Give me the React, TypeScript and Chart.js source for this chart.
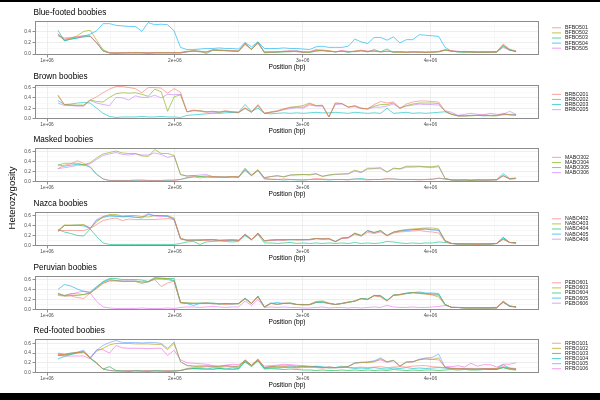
import React, { useEffect, useRef } from "react";
import { Chart, registerables } from "chart.js";

Chart.register(...registerables);

const FONT = '"Liberation Sans", Arial, Helvetica, sans-serif';

// Sliding windows along the scaffold (bp)
const WINDOW_FIRST = 1085000;
const WINDOW_STEP = 50500;
const WINDOW_COUNT = 72;
const positions: number[] = Array.from({ length: WINDOW_COUNT }, (_, i) => WINDOW_FIRST + i * WINDOW_STEP);

const xBreaks = [1e6, 1.5e6, 2e6, 2.5e6, 3e6, 3.5e6, 4e6, 4.5e6];
const yBreaks = [0, 0.1, 0.2, 0.3, 0.4, 0.5, 0.6, 0.7];

// Blue-footed boobies
const BFBO501 = [.36,.27,.29,.31,.33,.33,.20,.06,.02,.02, .02,.03,.02,.02,.02,.03,.02,.02,.03,.02, .04,.06,.04,.04,.08,.07,.07,.06,.05,.19, .09,.21,.04,.03,.04,.05,.06,.04,.03,.04, .08,.07,.05,.04,.06,.04,.05,.07,.05,.06, .04,.05,.04,.04,.03,.04,.03,.03,.04,.05, .08,.06,.05,.04,.04,.03,.04,.03,.04,.18, .09,.05];
const BFBO502 = [.34,.26,.28,.33,.41,.43,.25,.08,.02,.02, .02,.02,.03,.02,.02,.02,.03,.02,.02,.03, .05,.05,.05,.03,.07,.06,.06,.06,.05,.18, .08,.20,.03,.04,.04,.04,.05,.05,.04,.03, .06,.07,.06,.04,.05,.04,.05,.06,.04,.05, .04,.05,.04,.03,.03,.04,.04,.03,.03,.04, .07,.05,.04,.04,.03,.04,.03,.04,.03,.14, .08,.04];
const BFBO503 = [.43,.24,.27,.29,.31,.32,.20,.05,.02,.01, .02,.02,.02,.02,.01,.02,.02,.02,.02,.02, .04,.06,.05,.01,.07,.07,.06,.05,.05,.20, .08,.22,.02,.03,.03,.04,.04,.05,.03,.03, .05,.06,.05,.04,.05,.03,.05,.06,.04,.08, .04,.09,.03,.04,.03,.04,.03,.03,.04,.04, .07,.05,.04,.03,.04,.03,.03,.03,.04,.16, .07,.05];
const BFBO504 = [.37,.24,.27,.29,.32,.36,.42,.55,.55,.52, .51,.50,.50,.41,.57,.53,.54,.53,.42,.12, .08,.08,.09,.10,.10,.11,.10,.10,.09,.21, .13,.22,.10,.10,.10,.11,.10,.10,.09,.08, .13,.14,.12,.12,.12,.14,.27,.22,.19,.30, .30,.25,.31,.20,.26,.26,.35,.34,.33,.32, .12,.05,.04,.04,.04,.03,.04,.04,.04,.15, .07,.05];
const BFBO505 = [.33,.29,.30,.31,.33,.32,.21,.06,.02,.02, .02,.02,.02,.03,.02,.02,.02,.03,.02,.02, .04,.05,.04,.04,.07,.07,.06,.06,.05,.17, .09,.19,.04,.04,.04,.05,.05,.06,.04,.04, .07,.06,.05,.04,.06,.05,.04,.06,.05,.05, .04,.05,.04,.04,.04,.03,.04,.04,.03,.04, .07,.06,.04,.05,.04,.04,.04,.03,.04,.12, .07,.05];

// Brown boobies
const BRBO201 = [.46,.27,.26,.25,.25,.36,.42,.50,.57,.62, .62,.60,.58,.50,.60,.60,.59,.49,.58,.51, .13,.16,.14,.12,.14,.13,.15,.13,.12,.21, .13,.27,.10,.13,.15,.19,.21,.22,.22,.28, .25,.26,.03,.30,.29,.22,.24,.20,.19,.27, .33,.30,.32,.20,.28,.32,.34,.34,.33,.32, .14,.09,.05,.05,.06,.06,.07,.06,.06,.08, .07,.07];
const BRBO202 = [.44,.27,.26,.26,.26,.36,.33,.32,.41,.48, .50,.49,.50,.47,.43,.57,.52,.14,.42,.46, .13,.15,.15,.13,.14,.12,.14,.13,.12,.20, .12,.26,.10,.12,.14,.18,.22,.23,.25,.30, .25,.25,.03,.30,.29,.22,.25,.20,.19,.24, .27,.27,.30,.20,.25,.28,.30,.30,.30,.29, .14,.08,.05,.05,.05,.06,.06,.05,.05,.10, .07,.06];
const BRBO203 = [.35,.27,.28,.30,.31,.30,.20,.10,.04,.02, .03,.03,.03,.04,.03,.03,.04,.03,.03,.02, .06,.07,.08,.09,.10,.10,.11,.12,.12,.27, .14,.20,.10,.09,.10,.11,.10,.11,.10,.11, .12,.11,.11,.12,.11,.10,.12,.11,.10,.11, .10,.20,.10,.11,.12,.10,.11,.10,.11,.12, .13,.08,.05,.05,.06,.06,.05,.06,.06,.07, .08,.07];
const BRBO205 = [.30,.25,.25,.24,.24,.35,.30,.27,.25,.41, .40,.36,.44,.41,.41,.45,.40,.47,.46,.47, .13,.16,.15,.13,.12,.12,.14,.12,.11,.19, .12,.24,.10,.12,.14,.17,.19,.21,.20,.26, .24,.24,.03,.27,.28,.22,.23,.19,.18,.22, .22,.24,.28,.20,.24,.26,.28,.27,.27,.26, .15,.12,.06,.08,.10,.08,.07,.10,.08,.08, .14,.08];

// Masked boobies
const MABO302 = [.26,.33,.36,.42,.37,.30,.15,.05,.02,.02, .02,.02,.03,.02,.02,.02,.02,.03,.02,.04, .08,.10,.07,.09,.10,.09,.08,.10,.09,.22, .12,.23,.06,.05,.04,.05,.04,.04,.03,.04, .06,.05,.04,.04,.04,.03,.05,.04,.03,.04, .04,.06,.05,.04,.04,.04,.03,.04,.05,.06, .05,.03,.03,.03,.03,.03,.03,.03,.04,.12, .05,.06];
const MABO304 = [.33,.37,.37,.37,.34,.38,.48,.56,.59,.62, .58,.57,.57,.52,.51,.65,.57,.57,.53,.14, .11,.12,.10,.11,.10,.09,.09,.10,.09,.27, .13,.24,.07,.10,.12,.09,.13,.14,.14,.14, .16,.10,.13,.15,.15,.16,.23,.19,.27,.27, .28,.19,.27,.26,.31,.31,.31,.30,.30,.32, .06,.03,.03,.03,.02,.03,.03,.03,.03,.12, .05,.06];
const MABO305 = [.34,.31,.33,.35,.34,.29,.14,.05,.02,.02, .02,.02,.02,.03,.02,.02,.02,.02,.03,.04, .07,.09,.10,.09,.08,.09,.08,.09,.08,.25, .12,.22,.05,.04,.04,.03,.04,.03,.03,.04, .04,.04,.03,.04,.04,.04,.05,.06,.04,.04, .04,.05,.05,.04,.04,.04,.04,.04,.04,.07, .05,.03,.02,.03,.02,.03,.03,.03,.04,.16, .06,.07];
const MABO306 = [.26,.28,.30,.33,.33,.36,.45,.53,.56,.59, .55,.54,.56,.54,.54,.58,.55,.49,.52,.14, .11,.12,.13,.14,.10,.09,.10,.09,.10,.23, .12,.23,.08,.10,.11,.10,.13,.13,.14,.13, .15,.11,.13,.14,.15,.15,.21,.18,.25,.26, .26,.19,.26,.25,.29,.29,.30,.29,.28,.30, .06,.03,.03,.03,.03,.03,.02,.03,.03,.11, .05,.06];

// Nazca boobies
const NABO402 = [.30,.30,.30,.30,.30,.34,.42,.50,.53,.55, .50,.53,.52,.52,.52,.52,.53,.54,.52,.14, .11,.11,.12,.10,.11,.10,.10,.12,.10,.23, .12,.25,.09,.10,.11,.10,.12,.11,.11,.12, .14,.13,.14,.07,.14,.15,.22,.19,.26,.24, .27,.19,.25,.27,.28,.29,.30,.28,.27,.25, .08,.04,.03,.03,.03,.02,.03,.03,.04,.12, .06,.05];
const NABO403 = [.30,.41,.41,.41,.42,.35,.47,.58,.62,.62, .59,.60,.60,.58,.57,.60,.60,.60,.55,.14, .10,.11,.10,.11,.12,.10,.11,.11,.10,.21, .12,.24,.10,.11,.12,.11,.12,.11,.12,.12, .14,.13,.14,.08,.15,.16,.25,.20,.29,.26, .30,.20,.27,.30,.32,.33,.34,.35,.35,.33, .10,.04,.03,.03,.03,.02,.03,.03,.04,.13, .06,.05];
const NABO404 = [.32,.27,.24,.20,.19,.33,.18,.05,.02,.02, .02,.02,.02,.02,.02,.02,.02,.02,.02,.04, .07,.08,.02,.07,.08,.09,.08,.07,.08,.20, .11,.22,.05,.05,.04,.05,.06,.04,.05,.04, .05,.04,.05,.04,.05,.04,.06,.04,.05,.04, .05,.08,.07,.05,.04,.05,.04,.05,.05,.07, .06,.04,.03,.03,.03,.03,.03,.03,.04,.16, .06,.05];
const NABO405 = [.28,.40,.40,.41,.39,.34,.50,.56,.59,.58, .58,.58,.57,.55,.62,.60,.60,.58,.52,.13, .11,.10,.11,.12,.11,.10,.11,.10,.11,.22, .12,.25,.09,.11,.11,.12,.11,.12,.11,.12, .14,.13,.13,.08,.15,.16,.24,.20,.30,.26, .29,.20,.26,.29,.30,.32,.32,.33,.31,.31, .09,.04,.03,.03,.03,.03,.03,.03,.04,.16, .06,.05];
const NABO406 = [.28,.40,.40,.40,.41,.34,.52,.58,.60,.60, .57,.58,.56,.57,.64,.59,.58,.59,.53,.13, .10,.11,.10,.11,.12,.11,.10,.11,.10,.22, .12,.24,.09,.10,.11,.11,.12,.12,.12,.11, .13,.13,.13,.08,.14,.15,.24,.19,.30,.25, .30,.20,.27,.29,.31,.31,.33,.33,.32,.30, .09,.04,.03,.03,.03,.03,.03,.03,.04,.13, .06,.05];

// Peruvian boobies
const PEBO601 = [.28,.27,.27,.24,.22,.33,.42,.52,.58,.57, .57,.57,.57,.55,.56,.60,.46,.53,.57,.14, .12,.12,.12,.13,.11,.12,.10,.11,.12,.22, .12,.25,.05,.12,.10,.13,.12,.10,.09,.10, .15,.16,.12,.10,.12,.15,.17,.21,.20,.27, .25,.17,.28,.30,.32,.33,.33,.31,.30,.28, .10,.04,.04,.03,.03,.03,.03,.03,.03,.15, .07,.05];
const PEBO603 = [.30,.28,.32,.31,.30,.33,.43,.53,.57,.58, .56,.56,.56,.52,.56,.62,.62,.62,.58,.14, .13,.13,.12,.13,.12,.11,.11,.12,.11,.21, .12,.26,.05,.12,.11,.12,.13,.10,.09,.10, .16,.17,.13,.10,.12,.14,.17,.22,.20,.28, .26,.17,.29,.29,.32,.34,.32,.31,.29,.25, .09,.04,.04,.03,.03,.03,.03,.03,.03,.15, .07,.05];
const PEBO604 = [.32,.27,.28,.28,.30,.33,.44,.56,.62,.62, .60,.60,.60,.59,.56,.64,.63,.62,.62,.14, .13,.12,.13,.12,.13,.11,.12,.11,.12,.23, .12,.27,.05,.13,.10,.12,.13,.10,.10,.09, .14,.14,.12,.10,.12,.15,.16,.22,.20,.28, .28,.18,.29,.30,.32,.34,.33,.32,.31,.30, .10,.04,.04,.03,.03,.03,.03,.03,.04,.17, .07,.05];
const PEBO605 = [.40,.50,.47,.41,.36,.35,.46,.55,.60,.58, .57,.57,.57,.55,.55,.61,.61,.60,.57,.13, .12,.08,.12,.13,.12,.11,.12,.11,.12,.22, .12,.26,.05,.12,.14,.12,.12,.10,.10,.10, .14,.15,.12,.10,.12,.14,.17,.22,.21,.28, .27,.18,.28,.30,.33,.34,.35,.33,.33,.32, .10,.04,.04,.03,.03,.03,.03,.03,.03,.15, .06,.05];
const PEBO606 = [.33,.28,.30,.34,.37,.33,.16,.05,.03,.02, .02,.02,.02,.03,.02,.02,.02,.03,.02,.04, .05,.05,.04,.05,.06,.05,.04,.05,.05,.17, .08,.20,.04,.05,.04,.05,.04,.04,.03,.03, .04,.05,.03,.04,.04,.03,.04,.03,.04,.05, .04,.08,.05,.04,.04,.05,.04,.04,.05,.06, .08,.05,.04,.04,.03,.04,.03,.04,.04,.14, .06,.05];

// Red-footed boobies
const RFBO101 = [.37,.37,.39,.41,.43,.30,.20,.07,.04,.03, .03,.04,.03,.03,.04,.03,.03,.04,.03,.04, .08,.10,.10,.12,.11,.10,.12,.11,.10,.25, .14,.26,.10,.12,.10,.11,.10,.09,.10,.11, .10,.09,.10,.09,.11,.10,.10,.11,.10,.11, .12,.10,.11,.12,.11,.13,.14,.14,.12,.11, .10,.09,.08,.08,.08,.07,.08,.08,.08,.12, .09,.08];
const RFBO102 = [.38,.37,.40,.41,.43,.30,.44,.50,.57,.60, .60,.60,.59,.59,.59,.58,.58,.47,.60,.22, .14,.13,.12,.14,.13,.12,.14,.13,.12,.26, .15,.27,.10,.12,.13,.12,.14,.13,.12,.12, .11,.10,.11,.10,.11,.12,.19,.21,.20,.22, .28,.22,.25,.13,.21,.22,.26,.28,.27,.30, .10,.08,.08,.07,.07,.07,.07,.08,.07,.11, .08,.07];
const RFBO103 = [.35,.36,.38,.41,.43,.29,.20,.07,.12,.04, .03,.02,.03,.03,.02,.03,.03,.02,.03,.04, .07,.08,.07,.07,.06,.08,.07,.06,.07,.22, .12,.24,.07,.08,.07,.06,.07,.06,.05,.05, .04,.05,.04,.04,.05,.04,.05,.04,.05,.04, .05,.04,.06,.05,.04,.05,.04,.05,.05,.04, .05,.06,.05,.06,.05,.05,.06,.06,.06,.10, .06,.05];
const RFBO104 = [.28,.33,.37,.40,.41,.30,.18,.07,.04,.03, .03,.03,.04,.03,.03,.04,.03,.03,.03,.04, .07,.08,.08,.07,.09,.08,.07,.09,.08,.24, .14,.25,.08,.10,.09,.10,.11,.10,.12,.11, .13,.12,.09,.10,.13,.10,.08,.09,.08,.10, .08,.07,.09,.08,.10,.08,.09,.08,.09,.10, .09,.08,.07,.08,.07,.07,.08,.07,.08,.16, .09,.06];
const RFBO105 = [.40,.38,.40,.42,.46,.31,.46,.56,.62,.66, .62,.62,.62,.61,.62,.62,.60,.50,.63,.22, .15,.13,.14,.13,.12,.13,.14,.12,.13,.26, .15,.28,.10,.12,.13,.14,.13,.12,.13,.12, .12,.10,.11,.10,.10,.13,.20,.21,.22,.24, .30,.22,.25,.13,.22,.22,.27,.30,.31,.38, .10,.08,.08,.08,.07,.07,.08,.07,.07,.10, .08,.07];
const RFBO106 = [.36,.34,.34,.34,.34,.28,.47,.47,.40,.56, .51,.50,.50,.50,.49,.50,.50,.35,.46,.26, .20,.19,.18,.17,.14,.13,.15,.17,.16,.22, .14,.25,.13,.14,.15,.17,.16,.15,.14,.13, .12,.10,.11,.10,.10,.12,.19,.20,.21,.23, .26,.21,.24,.13,.21,.22,.27,.28,.27,.26, .12,.12,.14,.11,.19,.13,.16,.16,.11,.17, .17,.20];

// Default discrete hue palettes
const hue4 = ["#F8766D", "#7CAE00", "#00BFC4", "#C77CFF"];
const hue5 = ["#F8766D", "#A3A500", "#00BF7D", "#00B0F6", "#E76BF3"];
const hue6 = ["#F8766D", "#B79F00", "#00BA38", "#00BFC4", "#619CFF", "#F564E3"];

type PanelSpec = { title: string; names: string[]; series: number[][]; colors: string[] };

const panels: PanelSpec[] = [
  { title: "Blue-footed boobies", names: ["BFBO501", "BFBO502", "BFBO503", "BFBO504", "BFBO505"], series: [BFBO501, BFBO502, BFBO503, BFBO504, BFBO505], colors: hue5 },
  { title: "Brown boobies", names: ["BRBO201", "BRBO202", "BRBO203", "BRBO205"], series: [BRBO201, BRBO202, BRBO203, BRBO205], colors: hue4 },
  { title: "Masked boobies", names: ["MABO302", "MABO304", "MABO305", "MABO306"], series: [MABO302, MABO304, MABO305, MABO306], colors: hue4 },
  { title: "Nazca boobies", names: ["NABO402", "NABO403", "NABO404", "NABO405", "NABO406"], series: [NABO402, NABO403, NABO404, NABO405, NABO406], colors: hue5 },
  { title: "Peruvian boobies", names: ["PEBO601", "PEBO603", "PEBO604", "PEBO605", "PEBO606"], series: [PEBO601, PEBO603, PEBO604, PEBO605, PEBO606], colors: hue5 },
  { title: "Red-footed boobies", names: ["RFBO101", "RFBO102", "RFBO103", "RFBO104", "RFBO105", "RFBO106"], series: [RFBO101, RFBO102, RFBO103, RFBO104, RFBO105, RFBO106], colors: hue6 },
];

function withAlpha(hex: string, a: number): string {
  const n = parseInt(hex.slice(1), 16);
  return `rgba(${(n >> 16) & 255},${(n >> 8) & 255},${n & 255},${a})`;
}

const isMajorX = (v: number) => Math.abs(v / 1e6 - Math.round(v / 1e6)) < 1e-9;
const isMajorY = (v: number) => Math.round(v * 10) % 2 === 0;

// Panel border, species title and the line-key legend
const panelDecor = {
  id: "panelDecor",
  afterDatasetsDraw(chart: any) {
    const { ctx, chartArea: a } = chart;
    ctx.save();
    ctx.strokeStyle = "#8c8c8c";
    ctx.lineWidth = 1;
    ctx.strokeRect(Math.round(a.left) + 0.5, Math.round(a.top) + 0.5, Math.round(a.right - a.left) - 1, Math.round(a.bottom - a.top) - 1);
    ctx.restore();
  },
  afterDraw(chart: any, _args: any, opts: any) {
    const { ctx, chartArea: a } = chart;
    ctx.save();
    ctx.fillStyle = "#000";
    ctx.font = `8.2px ${FONT}`;
    ctx.textBaseline = "middle";
    ctx.textAlign = "left";
    ctx.fillText(opts.title, a.left - 1.5, a.top - 8);

    const sets = chart.data.datasets;
    const n = sets.length;
    const yc = (a.top + a.bottom) / 2;
    ctx.font = `5.2px ${FONT}`;
    sets.forEach((ds: any, k: number) => {
      const y = yc + (k - (n - 1) / 2) * 5.1;
      ctx.strokeStyle = ds.borderColor;
      ctx.lineWidth = 1;
      ctx.beginPath();
      ctx.moveTo(a.right + 13, y);
      ctx.lineTo(a.right + 22, y);
      ctx.stroke();
      ctx.fillStyle = "#1a1a1a";
      ctx.fillText(ds.label, a.right + 26, y);
    });
    ctx.restore();
  },
};

const CANVAS_H = 70;

function SpeciesPanel({ spec, top }: { spec: PanelSpec; top: number }) {
  const ref = useRef<HTMLCanvasElement | null>(null);

  useEffect(() => {
    const canvas = ref.current;
    if (!canvas) return;
    const all = spec.series.flat();
    const lo = Math.min(...all);
    const hi = Math.max(...all);
    const yPad = (hi - lo) * 0.05;
    const xLo = positions[0];
    const xHi = positions[positions.length - 1];
    const xPad = (xHi - xLo) * 0.05;

    const chart = new Chart(canvas, {
      type: "line",
      data: {
        datasets: spec.names.map((name, k) => ({
          label: name,
          data: positions.map((x, i) => ({ x, y: spec.series[k][i] })),
          borderColor: withAlpha(spec.colors[k], 0.68),
          borderWidth: 0.9,
          pointRadius: 0,
          tension: 0,
          fill: false,
        })),
      },
      options: {
        animation: false,
        responsive: false,
        devicePixelRatio: 1,
        events: [],
        layout: { padding: { top: 18, right: 61, left: 0, bottom: 0 } },
        plugins: {
          legend: { display: false },
          title: { display: false },
          tooltip: { enabled: false },
          panelDecor: { title: spec.title },
        } as any,
        scales: {
          x: {
            type: "linear",
            min: xLo - xPad,
            max: xHi + xPad,
            afterBuildTicks: (s: any) => {
              s.ticks = xBreaks.map((v) => ({ value: v }));
            },
            afterFit: (s: any) => {
              s.height = CANVAS_H - 52;
            },
            ticks: {
              autoSkip: false,
              maxRotation: 0,
              padding: 0.5,
              color: "#4d4d4d",
              font: { family: FONT, size: 4.8 },
              callback: (v: any) => (isMajorX(v) ? `${Math.round(v / 1e6)}e+06` : ""),
            },
            grid: {
              color: (c: any) => (c.tick && isMajorX(c.tick.value) ? "#e6e6e6" : "#f1f1f1"),
              lineWidth: (c: any) => (c.tick && isMajorX(c.tick.value) ? 0.7 : 0.5),
              tickLength: 2.5,
              tickWidth: 0.6,
              tickColor: (c: any) => (c.tick && isMajorX(c.tick.value) ? "#444" : "rgba(0,0,0,0)"),
            },
            border: { display: false },
            title: {
              display: true,
              text: "Position (bp)",
              color: "#000",
              font: { family: FONT, size: 6.6 },
              padding: { top: 0, bottom: 2 },
            },
          },
          y: {
            min: lo - yPad,
            max: hi + yPad,
            afterBuildTicks: (s: any) => {
              s.ticks = yBreaks.filter((v) => v >= s.min && v <= s.max).map((v) => ({ value: v }));
            },
            afterFit: (s: any) => {
              s.width = 35;
            },
            ticks: {
              autoSkip: false,
              padding: 1.5,
              color: "#4d4d4d",
              font: { family: FONT, size: 4.8 },
              callback: (v: any) => (isMajorY(v) ? Number(v).toFixed(1) : ""),
            },
            grid: {
              color: (c: any) => (c.tick && isMajorY(c.tick.value) ? "#e6e6e6" : "#f1f1f1"),
              lineWidth: (c: any) => (c.tick && isMajorY(c.tick.value) ? 0.7 : 0.5),
              tickLength: 2.5,
              tickWidth: 0.6,
              tickColor: (c: any) => (c.tick && isMajorY(c.tick.value) ? "#444" : "rgba(0,0,0,0)"),
            },
            border: { display: false },
          },
        },
      } as any,
      plugins: [panelDecor as any],
    });
    return () => chart.destroy();
  }, [spec]);

  return (
    <canvas
      ref={ref}
      width={600}
      height={CANVAS_H}
      style={{ position: "absolute", left: 0, top, width: 600, height: CANVAS_H }}
    />
  );
}

export default function App() {
  return (
    <div style={{ position: "fixed", left: 0, top: 0, width: 600, height: 400, background: "#000", overflow: "hidden" }}>
      <div style={{ position: "absolute", left: 0, top: 2, width: 600, height: 391, background: "#fff" }} />
      {panels.map((p, k) => (
        <SpeciesPanel key={p.title} spec={p} top={Math.round(21 + 63.66 * k) - 18} />
      ))}
      <div
        style={{
          position: "absolute",
          left: -28,
          top: 192,
          width: 80,
          height: 12,
          lineHeight: "12px",
          textAlign: "center",
          transform: "rotate(-90deg)",
          font: `9.5px ${FONT}`,
          color: "#000",
          whiteSpace: "nowrap",
        }}
      >
        Heterozygosity
      </div>
    </div>
  );
}
